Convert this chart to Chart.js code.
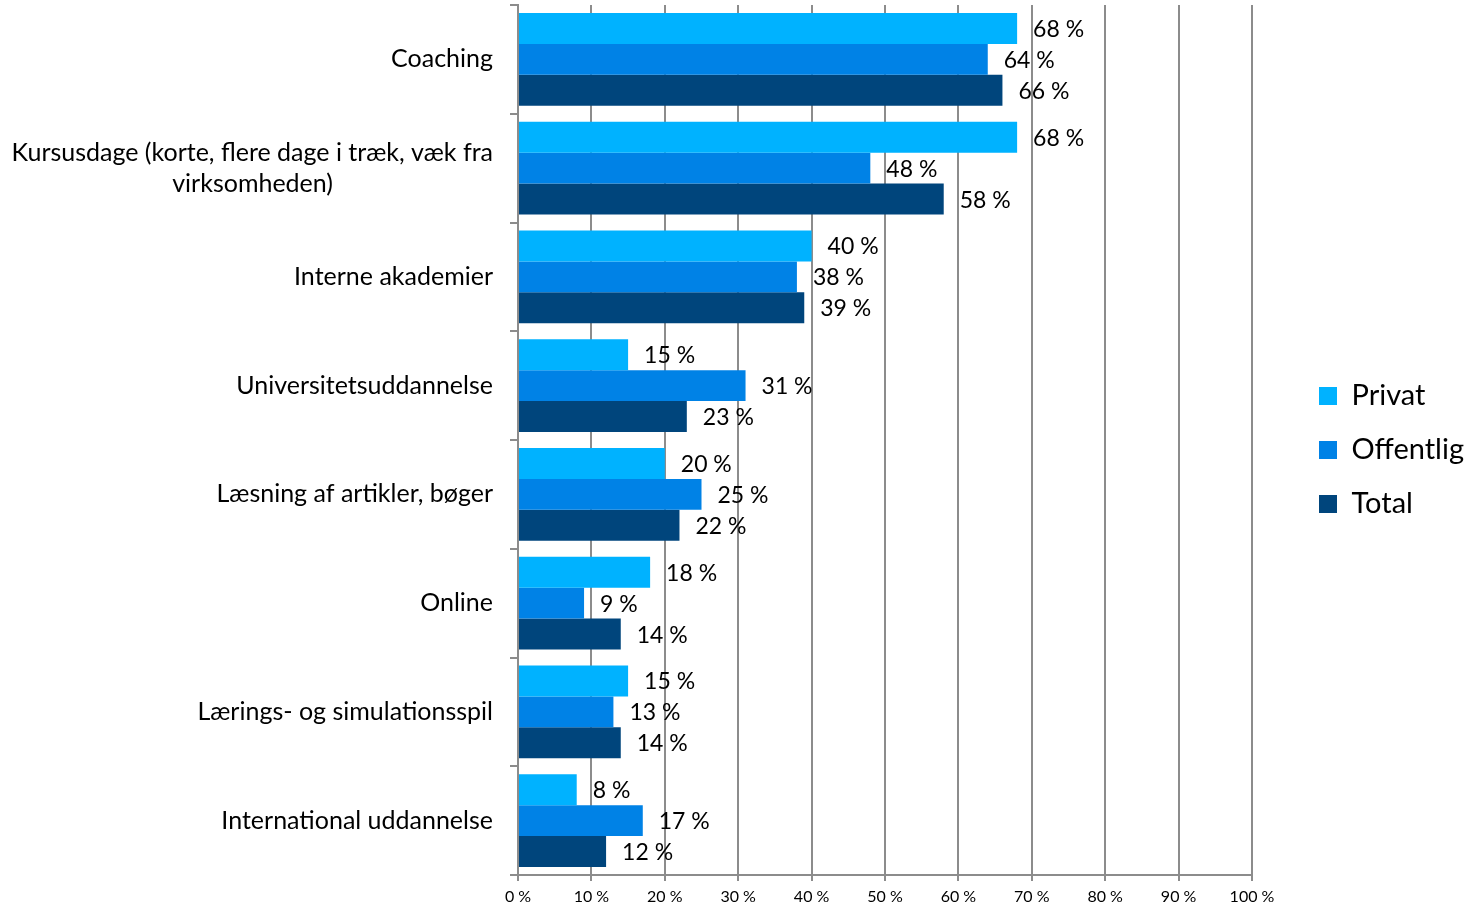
<!DOCTYPE html>
<html><head><meta charset="utf-8">
<script src="https://cdn.jsdelivr.net/npm/chart.js@4.4.1/dist/chart.umd.min.js"></script>
<style>html,body{margin:0;padding:0;background:#fff}</style>
</head><body>
<canvas id="c" width="1472" height="907"></canvas>
<script>
const categories = [
  'Coaching',
  ['Kursusdage (korte, flere dage i træk, væk fra', 'virksomheden)'],
  'Interne akademier',
  'Universitetsuddannelse',
  'Læsning af artikler, bøger',
  'Online',
  'Lærings- og simulationsspil',
  'International uddannelse'
];
const seriesNames = ['Privat', 'Offentlig', 'Total'];
const privat    = [68, 68, 40, 15, 20, 18, 15, 8];
const offentlig = [64, 48, 38, 31, 25, 9, 13, 17];
const total     = [66, 58, 39, 23, 22, 14, 14, 12];
const xMin = 0, xMax = 100, xStep = 10;
const colors = ['#00B2FF', '#0082E6', '#00457C'];

const FONT = 'Lato';
const GRID = '#8c8c8c';
const CAT_SIZE = 25;

// center 2nd line of multi-line category labels under the first (right-aligned axis)
const mctx = document.createElement('canvas').getContext('2d');
mctx.font = CAT_SIZE + 'px ' + FONT;
function centerLines(lbl) {
  if (!Array.isArray(lbl)) return lbl;
  const w0 = mctx.measureText(lbl[0]).width;
  const sp = mctx.measureText('\u00A0').width;
  return lbl.map((t, i) => {
    if (i === 0) return t;
    const n = Math.round((w0 - mctx.measureText(t).width) / 2 / sp);
    return t + '\u00A0'.repeat(Math.max(0, n));
  });
}

const valueLabels = {
  id: 'valueLabels',
  afterDatasetsDraw(chart) {
    const ctx = chart.ctx;
    ctx.save();
    ctx.font = '23px ' + FONT;
    ctx.fillStyle = '#000';
    ctx.textBaseline = 'middle';
    ctx.textAlign = 'left';
    chart.data.datasets.forEach((ds, i) => {
      chart.getDatasetMeta(i).data.forEach((bar, j) => {
        ctx.fillText(ds.data[j] + ' %', bar.x + 16, bar.y + 1);
      });
    });
    ctx.restore();
  }
};

const legendShift = {
  id: 'legendShift',
  afterLayout(chart) {
    const l = chart.legend;
    l.left += 42; l.right += 42;
    l.top -= 6; l.bottom -= 6;
  }
};

new Chart(document.getElementById('c'), {
  type: 'bar',
  data: {
    labels: categories,
    datasets: [
      { label: seriesNames[0], data: privat, backgroundColor: colors[0] },
      { label: seriesNames[1], data: offentlig, backgroundColor: colors[1] },
      { label: seriesNames[2], data: total, backgroundColor: colors[2] }
    ]
  },
  options: {
    indexAxis: 'y',
    responsive: false,
    animation: false,
    devicePixelRatio: 1,
    layout: { padding: { top: 5, left: 0, right: 0, bottom: 0 } },
    datasets: { bar: { barPercentage: 1, categoryPercentage: 0.855, borderWidth: 0 } },
    plugins: {
      tooltip: { enabled: false },
      legend: {
        position: 'right',
        labels: {
          boxWidth: 18, boxHeight: 18, padding: 25, color: '#000',
          font: { family: FONT, size: 29 }
        }
      }
    },
    scales: {
      x: {
        min: xMin, max: xMax,
        ticks: { stepSize: xStep, callback: v => v + ' %', color: '#000', font: { family: FONT, size: 16 }, padding: 6, maxRotation: 0 },
        grid: { color: GRID, lineWidth: 2, tickLength: 6, drawTicks: true },
        border: { color: GRID, width: 2 },
        afterFit(s) { s.height = 32; s.paddingRight = 220; }
      },
      y: {
        ticks: {
          color: '#000', font: { family: FONT, size: CAT_SIZE, lineHeight: 1.25 }, padding: 17, autoSkip: false,
          callback(v) { return centerLines(this.getLabelForValue(v)); }
        },
        grid: { drawOnChartArea: false, drawTicks: true, tickLength: 8, color: GRID, lineWidth: 2 },
        border: { color: GRID, width: 2 },
        afterFit(s) { s.width = 518; s.paddingTop = 0; s.paddingBottom = 0; }
      }
    }
  },
  plugins: [valueLabels, legendShift]
});
</script>
</body></html>
